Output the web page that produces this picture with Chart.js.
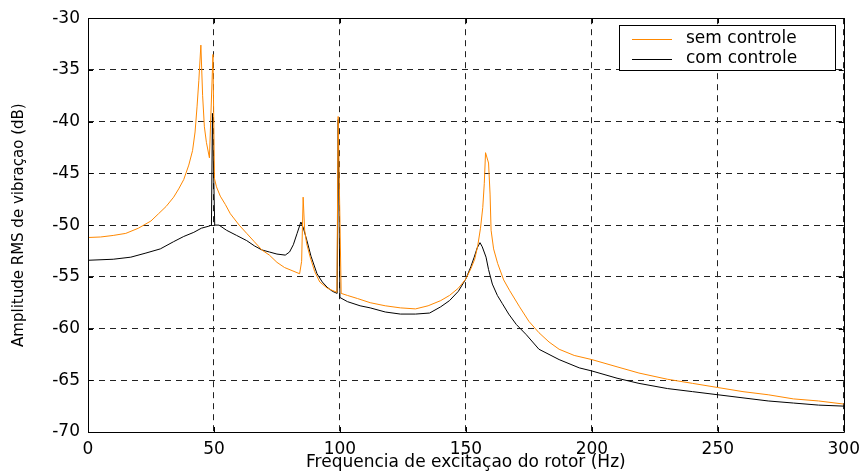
<!DOCTYPE html>
<html>
<head>
<meta charset="utf-8">
<script src="https://cdn.jsdelivr.net/npm/chart.js@4"></script>
<style>
html,body{margin:0;padding:0;background:#fff;}
#c{display:block;}
</style>
</head>
<body>
<canvas id="c" width="867" height="473"></canvas>
<script>
// ---- data ----
const seriesNames = ["sem controle", "com controle"];
const xTicks = [0, 50, 100, 150, 200, 250, 300];
const yTicks = [-70, -65, -60, -55, -50, -45, -40, -35, -30];

const freqSem = [0,5,10,15,20,25,28,31,34,36,38,40,41.5,42.5,43.3,44,44.8,45.5,46.2,47,48.2,49.6,50.2,51,52.5,54.5,56.5,60,63,66,69,72,75,78,81,84,84.8,85.4,86.0,86.8,88.2,90,92,95,98.8,99.3,100.5,103,107,112,118,124,130,135,140,143.5,147,150,152,153.5,154.7,155.8,156.7,157.3,157.8,159.0,159.6,160.0,161.0,162.6,165,167.3,171.3,175,179,183,187,193,200,210,218.7,230,240,250,260,270,280,290,300];
const ampSem  = [-51.2,-51.15,-51.0,-50.8,-50.3,-49.6,-48.9,-48.2,-47.3,-46.5,-45.6,-44.2,-42.8,-41.0,-38.5,-36.0,-32.6,-37.5,-40.5,-42.0,-43.5,-33.5,-45.5,-46.3,-47.2,-48.0,-48.9,-50.0,-50.8,-51.6,-52.4,-52.9,-53.6,-54.1,-54.4,-54.7,-53.5,-47.3,-50.5,-51.8,-53.1,-54.5,-55.5,-56.1,-56.5,-39.5,-56.6,-56.8,-57.1,-57.5,-57.8,-58.0,-58.1,-57.8,-57.3,-56.8,-56.1,-55.2,-54.2,-53.3,-52.0,-50.3,-48.3,-46.0,-43.0,-44.0,-47.0,-50.5,-52.3,-53.7,-55.3,-56.3,-57.9,-59.3,-60.4,-61.3,-62.0,-62.6,-63.0,-63.7,-64.3,-64.9,-65.3,-65.7,-66.1,-66.4,-66.8,-67.0,-67.3];

const freqCom = [0,10,17,23,28.7,34,38,42,45,48,49,49.4,50.3,52,55,59,63,66,69,72,75,78.3,80,81.5,83,84.5,85.5,86.9,88.5,90.9,93,94.9,97,98.9,99.3,100,103,108,112,118,124,130,135.6,140,143.5,147,150,152,153.3,154.5,155.6,156.5,158,159,160.5,162.5,164.5,167,170,174,179,187,195,200,210,218.7,230,240,250,260,270,280,290,300];
const ampCom  = [-53.4,-53.3,-53.1,-52.7,-52.3,-51.6,-51.1,-50.7,-50.3,-50.1,-50.0,-39.2,-50.0,-50.0,-50.5,-51.0,-51.5,-52.0,-52.4,-52.6,-52.8,-52.9,-52.6,-51.9,-50.8,-49.7,-50.3,-51.5,-53.0,-54.7,-55.5,-56.0,-56.4,-56.6,-39.8,-57.0,-57.4,-57.8,-58.0,-58.4,-58.6,-58.6,-58.5,-57.9,-57.3,-56.4,-55.2,-54.0,-53.1,-52.2,-51.7,-52.1,-53.1,-54.3,-55.7,-56.8,-57.6,-58.6,-59.6,-60.6,-62.0,-63.0,-63.8,-64.1,-64.8,-65.3,-65.8,-66.1,-66.4,-66.7,-67.0,-67.2,-67.4,-67.5];

const xTitle = "Frequencia de excitaçao do rotor (Hz)";
const yTitle = "Amplitude RMS de vibraçao (dB)";

const colors = ["rgb(255,136,0)", "#000000"];
const FONT = "'DejaVu Sans', sans-serif";

// frame + inward ticks (MATLAB style) + legend box
const framePlugin = {
  id: 'frame',
  afterDatasetsDraw(chart) {
    const {ctx, chartArea: a, scales} = chart;
    ctx.save();
    ctx.strokeStyle = '#000';
    ctx.lineWidth = 1;
    ctx.beginPath();
    ctx.rect(Math.round(a.left) + 0.5, Math.round(a.top) + 0.5,
             Math.round(a.right - a.left), Math.round(a.bottom - a.top));
    ctx.stroke();
    const L = 5;
    ctx.beginPath();
    scales.x.ticks.forEach(t => {
      const px = Math.round(scales.x.getPixelForValue(t.value)) + 0.5;
      ctx.moveTo(px, a.bottom); ctx.lineTo(px, a.bottom - L);
      ctx.moveTo(px, a.top); ctx.lineTo(px, a.top + L);
    });
    scales.y.ticks.forEach(t => {
      const py = Math.round(scales.y.getPixelForValue(t.value)) + 0.5;
      ctx.moveTo(a.left, py); ctx.lineTo(a.left + L, py);
      ctx.moveTo(a.right, py); ctx.lineTo(a.right - L, py);
    });
    ctx.stroke();

    const bx = 619.5, by = 25.5, bw = 216, bh = 45;
    ctx.fillStyle = '#fff';
    ctx.fillRect(bx, by, bw, bh);
    ctx.strokeRect(bx, by, bw, bh);
    ctx.font = "17px " + FONT;
    ctx.textBaseline = 'middle';
    ctx.textAlign = 'left';
    const rows = [39, 59];
    chart.data.datasets.forEach((ds, i) => {
      ctx.strokeStyle = ds.borderColor;
      ctx.lineWidth = 1;
      ctx.beginPath();
      ctx.moveTo(632, rows[i] + 0.5);
      ctx.lineTo(672, rows[i] + 0.5);
      ctx.stroke();
      ctx.fillStyle = '#000';
      ctx.fillText(ds.label, 686, rows[i]);
    });
    ctx.restore();
  }
};

const toPts = (xs, ys) => xs.map((x, i) => ({x: x, y: ys[i]}));

new Chart(document.getElementById('c'), {
  type: 'line',
  data: {
    datasets: [
      {label: seriesNames[0], data: toPts(freqSem, ampSem), borderColor: colors[0], backgroundColor: colors[0], borderWidth: 1, pointRadius: 0, tension: 0, fill: false},
      {label: seriesNames[1], data: toPts(freqCom, ampCom), borderColor: colors[1], backgroundColor: colors[1], borderWidth: 1, pointRadius: 0, tension: 0, fill: false}
    ]
  },
  options: {
    responsive: false,
    animation: false,
    events: [],
    layout: {padding: {top: 18, right: 21, left: 0, bottom: 0}},
    plugins: {legend: {display: false}, tooltip: {enabled: false}},
    scales: {
      x: {
        type: 'linear', min: 0, max: 300,
        afterBuildTicks: s => { s.ticks = xTicks.map(v => ({value: v})); },
        ticks: {color: '#000', font: {family: FONT, size: 17}, padding: 7, maxRotation: 0},
        grid: {color: '#222', lineWidth: 1, drawTicks: false},
        border: {display: false, dash: [6, 5]},
        title: {display: true, text: xTitle, color: '#000', font: {family: FONT, size: 17}, padding: {top: 0, bottom: 0}},
        afterFit: s => { s.height = 41; }
      },
      y: {
        type: 'linear', min: -70, max: -30,
        afterBuildTicks: s => { s.ticks = yTicks.map(v => ({value: v})); },
        ticks: {color: '#000', font: {family: FONT, size: 17}, padding: 8},
        grid: {color: '#222', lineWidth: 1, drawTicks: false},
        border: {display: false, dash: [6, 5]},
        title: {display: true, text: yTitle, color: '#000', font: {family: FONT, size: 15}, padding: {top: 10, bottom: 0}},
        afterFit: s => { s.width = 88; }
      }
    }
  },
  plugins: [framePlugin]
});
</script>
</body>
</html>
